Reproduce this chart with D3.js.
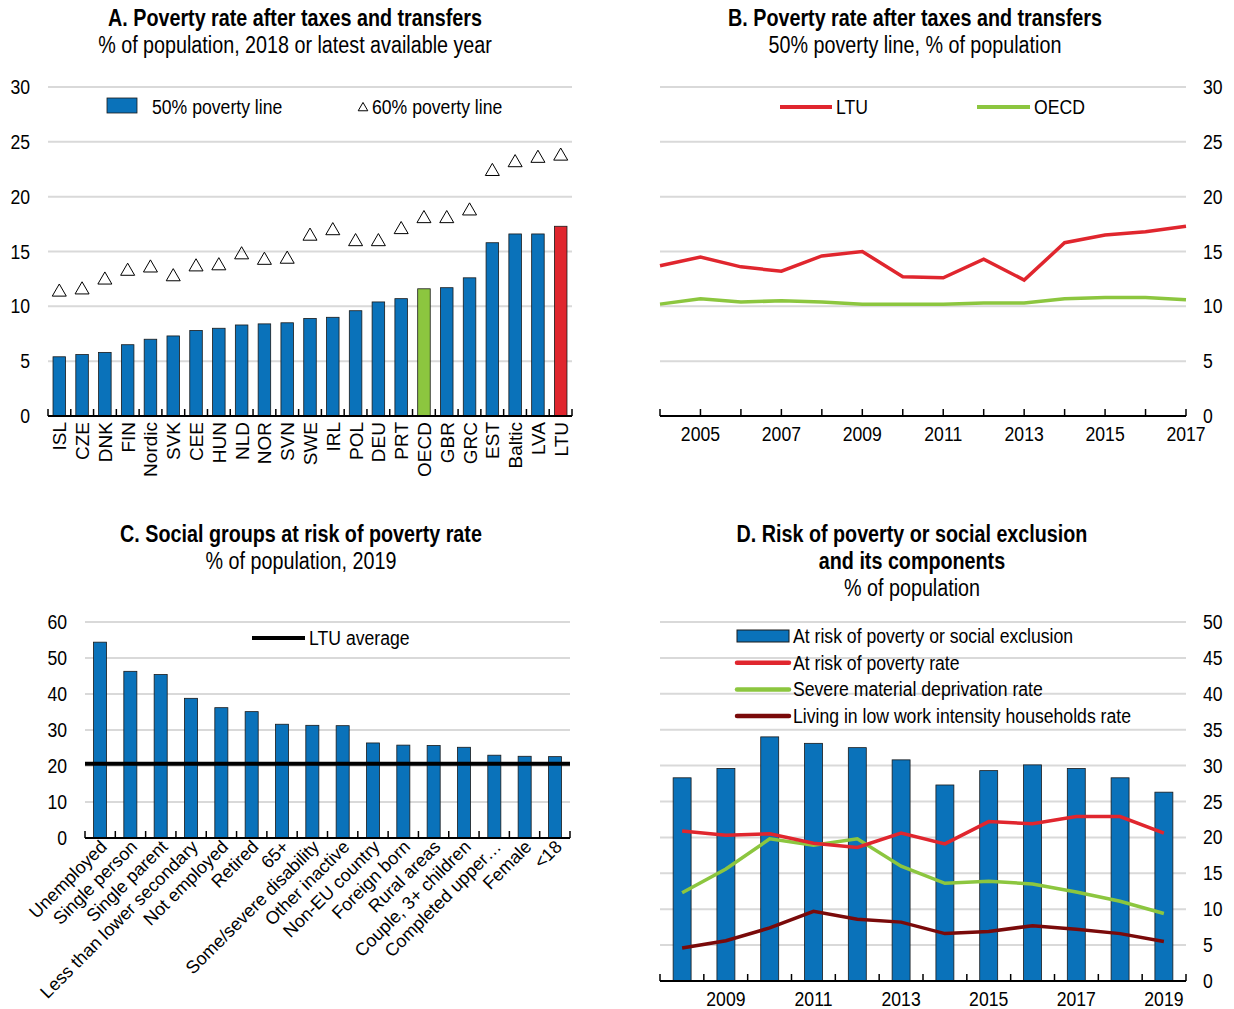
<!DOCTYPE html>
<html>
<head>
<meta charset="utf-8">
<script src="https://cdn.jsdelivr.net/npm/d3@7"></script>
<style>
  body { margin: 0; background: #fff; }
  svg text { font-family: "Liberation Sans", Arial, sans-serif; fill: #000; }
</style>
</head>
<body>
<div id="chart"></div>
<script>
// Panel A data
const countriesA = ["ISL","CZE","DNK","FIN","Nordic","SVK","CEE","HUN","NLD","NOR","SVN","SWE","IRL","POL","DEU","PRT","OECD","GBR","GRC","EST","Baltic","LVA","LTU"];
const pov50 = [5.4,5.6,5.8,6.5,7.0,7.3,7.8,8.0,8.3,8.4,8.5,8.9,9.0,9.6,10.4,10.7,11.6,11.7,12.6,15.8,16.6,16.6,17.3];
const pov60 = [11.3,11.5,12.4,13.2,13.5,12.7,13.6,13.7,14.7,14.2,14.3,16.4,16.9,15.9,15.9,17.0,18.0,18.0,18.7,22.3,23.1,23.5,23.7];

// Panel B data
const yearsB = [2004,2005,2006,2007,2008,2009,2010,2011,2012,2013,2014,2015,2016,2017];
const ltuB = [13.7,14.5,13.6,13.2,14.6,15.0,12.7,12.6,14.3,12.4,15.8,16.5,16.8,17.3];
const oecdB = [10.2,10.7,10.4,10.5,10.4,10.2,10.2,10.2,10.3,10.3,10.7,10.8,10.8,10.6];

// Panel C data
const groupsC = ["Unemployed","Single person","Single parent","Less than lower secondary","Not employed","Retired","65+","Some/severe disability","Other inactive","Non-EU country","Foreign born","Rural areas","Couple, 3+ children","Completed upper\u2026","Female","<18"];
const riskC = [54.4,46.3,45.4,38.8,36.2,35.1,31.6,31.3,31.2,26.4,25.8,25.7,25.2,23.0,22.7,22.6];
const ltuAverage = 20.6;

// Panel D data
const yearsD = [2008,2009,2010,2011,2012,2013,2014,2015,2016,2017,2018,2019];
const arope = [28.3,29.6,34.0,33.1,32.5,30.8,27.3,29.3,30.1,29.6,28.3,26.3];
const arpr = [20.9,20.3,20.5,19.2,18.6,20.6,19.1,22.2,21.9,22.9,22.9,20.6];
const smd = [12.3,15.6,19.8,18.9,19.8,16.0,13.6,13.9,13.5,12.4,11.1,9.4];
const lwi = [4.6,5.6,7.4,9.7,8.6,8.2,6.6,6.9,7.7,7.2,6.6,5.5];

const blue = "#0a72ba", red = "#e0262e", green = "#8cc63f", darkred = "#7a0a0a", grid = "#d9d9d9";
const narrow = 0.84; // squeeze text to look like a narrow face

const svg = d3.select("#chart").append("svg")
  .attr("width", 1234).attr("height", 1009);

// condensed text helper
function ntext(g, x, y, s, size, anchor, bold) {
  return g.append("text")
    .attr("transform", `translate(${x},${y}) scale(${narrow},1)`)
    .attr("text-anchor", anchor || "start")
    .style("font-size", size + "px")
    .style("font-weight", bold ? "bold" : "normal")
    .text(s);
}

function title(lines, cx, y0) {
  lines.forEach((l, i) => ntext(svg, cx, y0 + i * 27, l.t, 23.5, "middle", l.bold));
}

function gridAndAxis(g, y, x0, x1, ticks, side, labelX) {
  g.selectAll(".grid").data(ticks.filter(t => t !== 0)).enter().append("line")
    .attr("x1", x0).attr("x2", x1)
    .attr("y1", d => y(d)).attr("y2", d => y(d))
    .attr("stroke", grid).attr("stroke-width", 2);
  ticks.forEach(t => ntext(g, labelX, y(t) + 7, t, 21, side === "left" ? "end" : "start"));
}

// ---------- Panel A ----------
{
  const g = svg.append("g");
  const x = d3.scaleBand().domain(countriesA).range([48, 572]).paddingInner(0.45).paddingOuter(0.22);
  const y = d3.scaleLinear().domain([0, 30]).range([416, 87]);
  title([{t: "A. Poverty rate after taxes and transfers", bold: true}, {t: "% of population, 2018 or latest available year"}], 295, 26);
  gridAndAxis(g, y, 48, 572, d3.range(0, 31, 5), "left", 30);

  g.selectAll(".bar").data(countriesA).enter().append("rect")
    .attr("x", d => x(d)).attr("width", x.bandwidth())
    .attr("y", (d, i) => y(pov50[i])).attr("height", (d, i) => y(0) - y(pov50[i]))
    .attr("fill", d => d === "LTU" ? red : d === "OECD" ? green : blue)
    .attr("stroke", "#1a1a1a").attr("stroke-width", 0.8);

  g.selectAll(".tri").data(countriesA).enter().append("path")
    .attr("d", d3.symbol().type(d3.symbolTriangle).size(85))
    .attr("transform", (d, i) => `translate(${x(d) + x.bandwidth() / 2},${y(pov60[i])})`)
    .attr("fill", "none").attr("stroke", "#000").attr("stroke-width", 1);

  // axis
  const bounds = d3.range(countriesA.length + 1).map(i => 48 + i * (524 / countriesA.length));
  g.append("line").attr("x1", 48).attr("x2", 572).attr("y1", 416).attr("y2", 416).attr("stroke", "#000").attr("stroke-width", 2);
  g.selectAll(".tk").data(bounds).enter().append("line")
    .attr("x1", d => d).attr("x2", d => d).attr("y1", 416).attr("y2", 409)
    .attr("stroke", "#000").attr("stroke-width", 1.5);
  g.selectAll(".xl").data(countriesA).enter().append("text")
    .attr("transform", d => `translate(${x(d) + x.bandwidth() / 2 + 7},422) rotate(-90)`)
    .attr("text-anchor", "end")
    .style("font-size", "19px")
    .text(d => d);

  // legend
  g.append("rect").attr("x", 107).attr("y", 98).attr("width", 30).attr("height", 15)
    .attr("fill", blue).attr("stroke", "#1a1a1a").attr("stroke-width", 0.8);
  ntext(g, 152, 114, "50% poverty line", 21);
  g.append("path").attr("d", d3.symbol().type(d3.symbolTriangle).size(40))
    .attr("transform", "translate(363,108)").attr("fill", "none").attr("stroke", "#000");
  ntext(g, 372, 114, "60% poverty line", 21);
}

// ---------- Panel B ----------
{
  const g = svg.append("g");
  const x = d3.scaleLinear().domain([2004, 2017]).range([660, 1186]);
  const y = d3.scaleLinear().domain([0, 30]).range([416, 87]);
  title([{t: "B. Poverty rate after taxes and transfers", bold: true}, {t: "50% poverty line, % of population"}], 915, 26);
  gridAndAxis(g, y, 660, 1186, d3.range(0, 31, 5), "right", 1203);

  g.append("line").attr("x1", 660).attr("x2", 1186).attr("y1", 416).attr("y2", 416).attr("stroke", "#000").attr("stroke-width", 2);
  g.selectAll(".tk").data(yearsB).enter().append("line")
    .attr("x1", d => x(d)).attr("x2", d => x(d)).attr("y1", 416).attr("y2", 409)
    .attr("stroke", "#000").attr("stroke-width", 1.5);
  yearsB.filter(d => d % 2 === 1).forEach(d => ntext(g, x(d), 441, d, 21, "middle"));

  const line = d3.line().x((d, i) => x(yearsB[i])).y(d => y(d));
  g.append("path").datum(oecdB).attr("d", line).attr("fill", "none").attr("stroke", green).attr("stroke-width", 3.5);
  g.append("path").datum(ltuB).attr("d", line).attr("fill", "none").attr("stroke", red).attr("stroke-width", 3.5);

  g.append("line").attr("x1", 780).attr("x2", 832).attr("y1", 107).attr("y2", 107).attr("stroke", red).attr("stroke-width", 4);
  ntext(g, 836, 114, "LTU", 21);
  g.append("line").attr("x1", 977).attr("x2", 1030).attr("y1", 107).attr("y2", 107).attr("stroke", green).attr("stroke-width", 4);
  ntext(g, 1034, 114, "OECD", 21);
}

// ---------- Panel C ----------
{
  const g = svg.append("g");
  const x = d3.scaleBand().domain(groupsC).range([85, 570]).paddingInner(0.57).paddingOuter(0.28);
  const y = d3.scaleLinear().domain([0, 60]).range([838, 622]);
  title([{t: "C. Social groups at risk of poverty rate", bold: true}, {t: "% of population, 2019"}], 301, 542);
  gridAndAxis(g, y, 85, 570, d3.range(0, 61, 10), "left", 67);

  g.selectAll(".bar").data(groupsC).enter().append("rect")
    .attr("x", d => x(d)).attr("width", x.bandwidth())
    .attr("y", (d, i) => y(riskC[i])).attr("height", (d, i) => y(0) - y(riskC[i]))
    .attr("fill", blue).attr("stroke", "#1a1a1a").attr("stroke-width", 0.8);

  const bounds = d3.range(groupsC.length + 1).map(i => 85 + i * (485 / groupsC.length));
  g.append("line").attr("x1", 85).attr("x2", 570).attr("y1", 838).attr("y2", 838).attr("stroke", "#000").attr("stroke-width", 2);
  g.selectAll(".tk").data(bounds).enter().append("line")
    .attr("x1", d => d).attr("x2", d => d).attr("y1", 838).attr("y2", 831)
    .attr("stroke", "#000").attr("stroke-width", 1.5);

  g.append("line").attr("x1", 85).attr("x2", 570).attr("y1", y(ltuAverage)).attr("y2", y(ltuAverage))
    .attr("stroke", "#000").attr("stroke-width", 4);

  g.selectAll(".xl").data(groupsC).enter().append("text")
    .attr("transform", d => `translate(${x(d) + x.bandwidth() / 2 + 8},848) rotate(-45)`)
    .attr("text-anchor", "end")
    .style("font-size", "18px")
    .text(d => d);

  g.append("line").attr("x1", 252).attr("x2", 305).attr("y1", 638).attr("y2", 638).attr("stroke", "#000").attr("stroke-width", 4);
  ntext(g, 309, 645, "LTU average", 21);
}

// ---------- Panel D ----------
{
  const g = svg.append("g");
  const x = d3.scaleBand().domain(yearsD).range([660, 1186]).paddingInner(0.59).paddingOuter(0.3);
  const y = d3.scaleLinear().domain([0, 50]).range([981, 622]);
  title([{t: "D. Risk of poverty or social exclusion", bold: true}, {t: "and its components", bold: true}, {t: "% of population"}], 912, 542);
  gridAndAxis(g, y, 660, 1186, d3.range(0, 51, 5), "right", 1203);

  g.selectAll(".bar").data(yearsD).enter().append("rect")
    .attr("x", d => x(d)).attr("width", x.bandwidth())
    .attr("y", (d, i) => y(arope[i])).attr("height", (d, i) => y(0) - y(arope[i]))
    .attr("fill", blue).attr("stroke", "#1a1a1a").attr("stroke-width", 0.8);

  const bounds = d3.range(yearsD.length + 1).map(i => 660 + i * (526 / yearsD.length));
  g.append("line").attr("x1", 660).attr("x2", 1186).attr("y1", 981).attr("y2", 981).attr("stroke", "#000").attr("stroke-width", 2);
  g.selectAll(".tk").data(bounds).enter().append("line")
    .attr("x1", d => d).attr("x2", d => d).attr("y1", 981).attr("y2", 974)
    .attr("stroke", "#000").attr("stroke-width", 1.5);
  yearsD.filter(d => d % 2 === 1).forEach(d => ntext(g, x(d) + x.bandwidth() / 2, 1006, d, 21, "middle"));

  const cx = (d, i) => x(yearsD[i]) + x.bandwidth() / 2;
  const line = d3.line().x(cx).y(d => y(d));
  [[lwi, darkred], [smd, green], [arpr, red]].forEach(([s, c]) => {
    g.append("path").datum(s).attr("d", line).attr("fill", "none").attr("stroke", c).attr("stroke-width", 3.5);
  });

  const legend = [
    {t: "At risk of poverty or social exclusion", type: "bar"},
    {t: "At risk of poverty rate", c: red},
    {t: "Severe material deprivation rate", c: green},
    {t: "Living in low work intensity households rate", c: darkred}
  ];
  legend.forEach((l, i) => {
    const ly = 636 + i * 26.7;
    if (l.type === "bar") {
      g.append("rect").attr("x", 737).attr("y", ly - 6).attr("width", 52).attr("height", 12)
        .attr("fill", blue).attr("stroke", "#1a1a1a").attr("stroke-width", 1);
    } else {
      g.append("line").attr("x1", 737).attr("x2", 789).attr("y1", ly).attr("y2", ly)
        .attr("stroke", l.c).attr("stroke-width", 4.5).attr("stroke-linecap", "round");
    }
    ntext(g, 793, ly + 7, l.t, 21);
  });
}
</script>
</body>
</html>
